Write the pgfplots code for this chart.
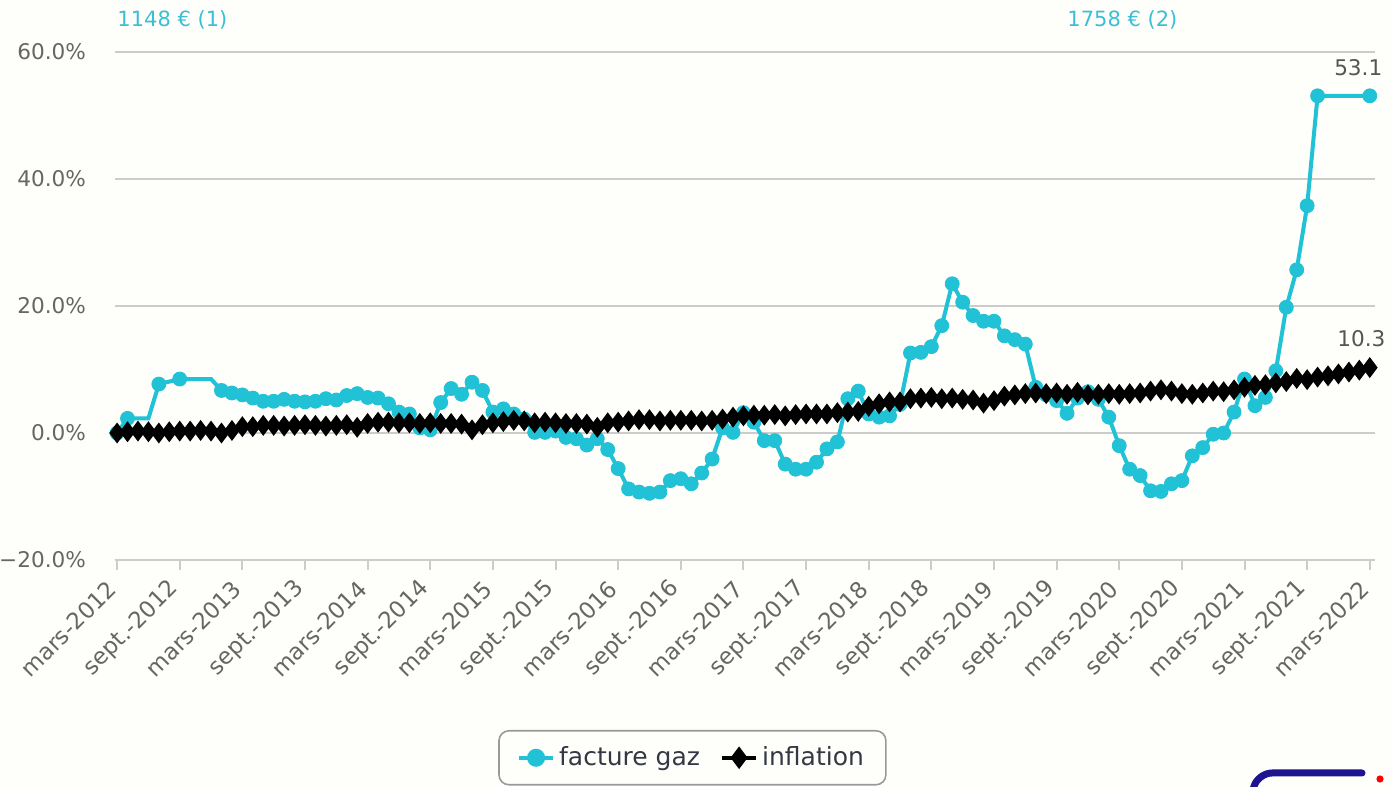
\documentclass[border=0pt]{standalone}
\usepackage{fontspec}
\setmainfont{DejaVu Sans}
\usepackage{pgfplots}
\usepackage{pgfplotstable}
\pgfplotsset{compat=1.18}
\definecolor{gaz}{HTML}{21C1D6}
\definecolor{gazlbl}{HTML}{3BBFD6}
\definecolor{tickgray}{HTML}{666666}
\definecolor{gridgray}{HTML}{CCCCCC}
\definecolor{bg}{HTML}{FEFEFB}
\definecolor{lbl}{HTML}{555555}
\definecolor{legtext}{HTML}{333844}
\definecolor{logoblue}{HTML}{1E1490}

\pgfplotstableread{
i gas infl
0 0.0 0.0
1 2.3 0.2
2 2.3 0.3
3 2.3 0.2
4 7.7 0.0
5 8.1 0.2
6 8.5 0.3
7 8.5 0.3
8 8.5 0.4
9 8.5 0.3
10 6.7 0.0
11 6.3 0.4
12 6.0 1.0
13 5.5 1.0
14 5.0 1.2
15 5.0 1.2
16 5.3 1.1
17 5.0 1.2
18 4.9 1.3
19 5.0 1.2
20 5.4 1.1
21 5.2 1.2
22 5.9 1.3
23 6.2 0.9
24 5.6 1.5
25 5.5 1.7
26 4.6 1.7
27 3.3 1.6
28 3.0 1.6
29 0.8 1.5
30 0.5 1.6
31 4.8 1.5
32 7.0 1.5
33 6.1 1.4
34 8.0 0.5
35 6.7 1.3
36 3.3 1.6
37 3.8 1.8
38 3.0 2.0
39 2.2 1.9
40 0.1 1.6
41 0.1 1.7
42 0.3 1.6
43 -0.7 1.5
44 -0.9 1.5
45 -1.9 1.4
46 -0.9 0.9
47 -2.6 1.6
48 -5.6 1.7
49 -8.8 1.9
50 -9.3 2.1
51 -9.5 2.1
52 -9.3 1.9
53 -7.5 2.0
54 -7.2 2.0
55 -8.0 2.0
56 -6.3 1.9
57 -4.1 2.0
58 0.8 2.2
59 0.1 2.5
60 3.2 2.7
61 1.7 2.8
62 -1.2 2.8
63 -1.2 2.9
64 -4.9 2.7
65 -5.7 2.9
66 -5.7 3.0
67 -4.6 3.0
68 -2.5 3.0
69 -1.4 3.2
70 5.4 3.3
71 6.6 3.4
72 3.0 4.2
73 2.5 4.6
74 2.7 4.9
75 4.5 4.9
76 12.6 5.4
77 12.7 5.5
78 13.6 5.6
79 16.9 5.4
80 23.5 5.5
81 20.6 5.3
82 18.5 5.2
83 17.6 4.7
84 17.6 5.1
85 15.3 5.8
86 14.7 6.0
87 14.0 6.2
88 7.2 6.3
89 6.0 6.2
90 5.1 6.3
91 3.1 6.1
92 5.5 6.4
93 6.5 6.0
94 5.3 6.1
95 2.5 6.2
96 -2.0 6.1
97 -5.7 6.2
98 -6.7 6.3
99 -9.1 6.6
100 -9.2 6.8
101 -8.0 6.6
102 -7.5 6.2
103 -3.6 6.1
104 -2.3 6.3
105 -0.2 6.6
106 0.0 6.5
107 3.3 6.8
108 8.5 7.2
109 4.3 7.5
110 5.6 7.6
111 9.8 7.9
112 19.8 8.1
113 25.7 8.6
114 35.8 8.4
115 53.1 8.8
116 53.1 9.0
117 53.1 9.3
118 53.1 9.6
119 53.1 9.9
120 53.1 10.3
}\data

\begin{document}
\begin{tikzpicture}
\useasboundingbox[fill=bg] (0,0) rectangle (696.5pt,393.5pt);
\begin{axis}[
  at={(57.5pt,113.5pt)}, anchor=south west,
  scale only axis, width=630pt, height=254pt,
  xmin=-0.2, xmax=120.5, ymin=-20, ymax=60,
  clip=false,
  axis x line*=bottom, axis y line*=left,
  y axis line style={draw=none},
  x axis line style={gridgray, line width=1pt},
  ymajorgrids, grid style={gridgray, line width=1pt},
  ytick={-20,0,20,40,60},
  yticklabels={−20.0\%,0.0\%,20.0\%,40.0\%,60.0\%},
  ytick style={draw=none},
  yticklabel shift=6pt,
  yticklabel style={text=tickgray, font=\fontsize{10.8}{13}\selectfont},
  xtick={0,6,...,120},
  xticklabels={mars-2012,sept.-2012,mars-2013,sept.-2013,mars-2014,sept.-2014,mars-2015,sept.-2015,mars-2016,sept.-2016,mars-2017,sept.-2017,mars-2018,sept.-2018,mars-2019,sept.-2019,mars-2020,sept.-2020,mars-2021,sept.-2021,mars-2022},
  xticklabel style={rotate=45, anchor=east, text=tickgray, font=\fontsize{11.4}{13}\selectfont},
  xticklabel shift=5pt,
  tick align=outside,
  major tick length=5pt,
  xtick style={gridgray, line width=1pt},
  legend style={at={(0.4583,-0.3346)}, anchor=north, legend columns=2,
    draw={rgb,255:red,153;green,153;blue,153}, line width=0.8pt, rounded corners=5pt,
    fill=none, font=\fontsize{12.5}{15}\selectfont, text=legtext,
    inner xsep=9pt, inner ysep=6pt,
    /tikz/every even column/.append style={column sep=8pt}},
]
\addplot[gaz, line width=2pt, forget plot] table[x=i,y=gas]{\data};
\addplot[gaz, only marks, mark=*, mark size=3.5pt, forget plot,
  skip coords between index={2}{4},
  skip coords between index={5}{6},
  skip coords between index={7}{10},
  skip coords between index={116}{120}] table[x=i,y=gas]{\data};
\addplot[black, line width=1.5pt, mark=diamond*, mark size=4pt, forget plot] table[x=i,y=infl]{\data};
\addlegendimage{gaz, line width=2pt, mark=*, mark size=3.5pt}
\addlegendentry{facture gaz}
\addlegendimage{black, line width=2pt, mark=diamond*, mark size=4pt}
\addlegendentry{inflation}
\node[anchor=west, inner sep=0pt, text=gazlbl, font=\fontsize{10.5}{12}\selectfont] at (axis cs:0,65) {1148 € (1)};
\node[anchor=west, inner sep=0pt, text=gazlbl, font=\fontsize{10.5}{12}\selectfont] at (axis cs:91,65) {1758 € (2)};
\node[inner sep=0pt, text=lbl, font=\fontsize{10.8}{13}\selectfont] at (axis cs:118.9,57.5) {53.1};
\node[inner sep=0pt, text=lbl, font=\fontsize{10.8}{13}\selectfont] at (axis cs:119.2,14.8) {10.3};
\end{axis}
\draw[logoblue, line width=3.5pt, rounded corners=7pt, line cap=round] (626pt,-3pt) -- (629pt,7pt) -- (681pt,7pt);
\fill[red] (690pt,4pt) circle (1.8pt);
\end{tikzpicture}
\end{document}
